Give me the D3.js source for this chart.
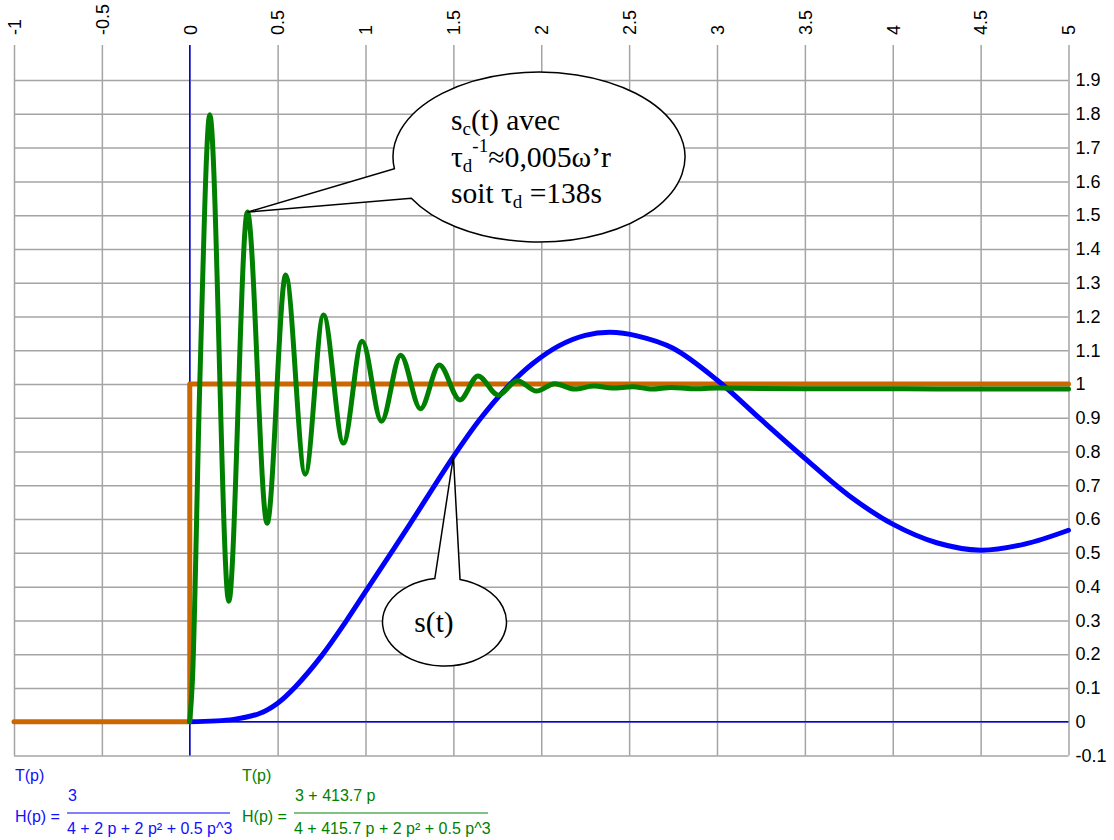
<!DOCTYPE html>
<html>
<head>
<meta charset="utf-8">
<script src="https://cdn.jsdelivr.net/npm/d3@7"></script>
<style>
  body { margin: 0; background: #fff; }
  text { font-family: "Liberation Sans", Arial, sans-serif; }
  .serif { font-family: "Liberation Serif", "Times New Roman", serif; }
</style>
</head>
<body>
<svg id="chart" width="1114" height="840"></svg>
<script>
// Tick values of the two axes
const xTicks = [-1, -0.5, 0, 0.5, 1, 1.5, 2, 2.5, 3, 3.5, 4, 4.5, 5];
const yTicks = [-0.1, 0, 0.1, 0.2, 0.3, 0.4, 0.5, 0.6, 0.7, 0.8, 0.9, 1, 1.1, 1.2, 1.3, 1.4, 1.5, 1.6, 1.7, 1.8, 1.9];

// Unit step input
const stepT = [-1, 0, 0, 5];
const stepV = [0, 0, 1, 1];

// s(t): response of the plain system
const sT = [0, 0.25, 0.4, 0.5, 0.6, 0.75, 0.89, 1.0, 1.25, 1.5, 1.65, 1.8, 1.95, 2.1, 2.25, 2.39, 2.55, 2.75, 3.0, 3.25, 3.5, 3.75, 4.0, 4.25, 4.5, 4.75, 5.0];
const sV = [0, 0.007, 0.025, 0.055, 0.103, 0.195, 0.298, 0.385, 0.583, 0.785, 0.895, 0.987, 1.06, 1.113, 1.144, 1.153, 1.142, 1.106, 1.012, 0.895, 0.78, 0.67, 0.585, 0.53, 0.508, 0.526, 0.567];

// s_c(t): response with the corrector (extrema of the damped oscillation)
const scT = [0, 0.015, 0.057, 0.114, 0.222, 0.328, 0.44, 0.546, 0.657, 0.761, 0.874, 0.981, 1.091, 1.20, 1.313, 1.42, 1.537, 1.64, 1.756, 1.864, 1.973, 2.077, 2.19, 2.30, 2.405, 2.52, 2.63, 2.74, 2.86, 3.0, 3.5, 4.0, 4.5, 5.0];
const scV = [0, 0.12, 1.0, 1.797, 0.357, 1.509, 0.588, 1.323, 0.733, 1.204, 0.825, 1.127, 0.890, 1.085, 0.927, 1.056, 0.953, 1.024, 0.967, 1.010, 0.979, 1.001, 0.985, 0.994, 0.988, 0.992, 0.985, 0.99, 0.986, 0.988, 0.986, 0.986, 0.985, 0.985];

// Points the callouts point at
const calloutScT = 0.328, calloutScV = 1.509;
const calloutST = 1.5, calloutSV = 0.785;

const svg = d3.select("#chart");
const plotLeft = 14, plotRight = 1068.5, plotTop = 46.3, plotBottom = 755.5, tickTop = 45;

const x = d3.scaleLinear().domain([-1, 5]).range([plotLeft, plotRight]);
const y = d3.scaleLinear().domain([-0.1, 2.0]).range([plotBottom, plotTop]);

const gridColor = "#a4a4a4";

// Horizontal grid + right-hand labels
const yAxis = svg.append("g")
  .attr("transform", `translate(${plotRight},0)`)
  .call(d3.axisRight(y).tickValues(yTicks).tickFormat(d => String(d))
    .tickSize(-(plotRight - plotLeft)).tickPadding(7));
yAxis.select(".domain").remove();
yAxis.selectAll(".tick line").attr("stroke", gridColor).attr("stroke-width", 1.5);
yAxis.selectAll(".tick text").attr("font-size", 18).attr("fill", "#000")
  .attr("font-family", "Liberation Sans, Arial, sans-serif");

// Vertical grid + rotated top labels
const xAxis = svg.append("g")
  .attr("transform", `translate(0,${tickTop})`)
  .call(d3.axisTop(x).tickValues(xTicks).tickFormat(d => String(d))
    .tickSize(-(plotBottom - tickTop)).tickPadding(10));
xAxis.select(".domain").remove();
xAxis.selectAll(".tick line").attr("stroke", gridColor).attr("stroke-width", 1.5);
xAxis.selectAll(".tick text")
  .attr("font-size", 18).attr("fill", "#000")
  .attr("font-family", "Liberation Sans, Arial, sans-serif")
  .attr("transform", "rotate(-90)")
  .attr("x", 10).attr("y", 0).attr("dy", "0.35em")
  .attr("text-anchor", "start");

// Coordinate axes through the origin
svg.append("line")
  .attr("x1", x(0)).attr("x2", x(0)).attr("y1", tickTop).attr("y2", plotBottom)
  .attr("stroke", "#0000ff").attr("stroke-width", 1.5);
svg.append("line")
  .attr("x1", plotLeft).attr("x2", plotRight).attr("y1", y(0)).attr("y2", y(0))
  .attr("stroke", "#0000ff").attr("stroke-width", 1.5);

// Curves
const lineLinear = d3.line().x(d => x(d[0])).y(d => y(d[1]));
const lineSmooth = d3.line().x(d => x(d[0])).y(d => y(d[1])).curve(d3.curveMonotoneX);
const lineRound = d3.line().x(d => x(d[0])).y(d => y(d[1])).curve(d3.curveCatmullRom.alpha(0.5));

function drawCurve(ts, vs, gen, color) {
  svg.append("path")
    .datum(ts.map((t, i) => [t, vs[i]]))
    .attr("d", gen)
    .attr("fill", "none")
    .attr("stroke", color)
    .attr("stroke-width", 5)
    .attr("stroke-linecap", "round")
    .attr("stroke-linejoin", "round");
}
drawCurve(stepT, stepV, lineLinear, "#cc6600");
drawCurve(sT, sV, lineRound, "#0000ff");
drawCurve(scT, scV, lineSmooth, "#008000");

// Speech-bubble callouts
function bubble(cx, cy, rx, ry, a1, a2, tip) {
  const p = a => [cx + rx * Math.cos(a * Math.PI / 180), cy + ry * Math.sin(a * Math.PI / 180)];
  const s = p(a1), e = p(a2);
  const d = `M${s[0]},${s[1]} A${rx},${ry} 0 1 1 ${e[0]},${e[1]} L${tip[0]},${tip[1]} Z`;
  svg.append("path").attr("d", d).attr("fill", "#fff")
    .attr("stroke", "#000").attr("stroke-width", 1.5).attr("stroke-linejoin", "miter");
}
bubble(539, 157, 146, 85, 172, 151, [x(calloutScT), y(calloutScV)]);
bubble(444.5, 622, 62, 44, -75.5, 261, [x(calloutST), y(calloutSV)]);

// Callout texts
const big = 29.5, small = 19;
const t1 = svg.append("text").attr("class", "serif").attr("font-size", big).attr("fill", "#000")
  .attr("x", 451).attr("y", 130);
t1.append("tspan").text("s");
t1.append("tspan").attr("font-size", small).attr("dy", 5).text("c");
t1.append("tspan").attr("dy", -5).text("(t) avec");

const t2 = svg.append("text").attr("class", "serif").attr("font-size", big).attr("fill", "#000")
  .attr("x", 451).attr("y", 167);
t2.append("tspan").text("τ");
t2.append("tspan").attr("font-size", small).attr("dy", 5).text("d");
t2.append("tspan").attr("font-size", small).attr("dy", -20).text("-1");
// rest of the line, fitted to the width of the serif metrics
const t2Start = 451 + t2.node().getComputedTextLength();
svg.append("text").attr("class", "serif").attr("font-size", big).attr("fill", "#000")
  .attr("x", t2Start).attr("y", 167)
  .attr("textLength", 611 - t2Start).attr("lengthAdjust", "spacingAndGlyphs")
  .text("≈0,005ω’r");

const t3 = svg.append("text").attr("class", "serif").attr("font-size", big).attr("fill", "#000")
  .attr("x", 451).attr("y", 203);
t3.append("tspan").text("soit τ");
t3.append("tspan").attr("font-size", small).attr("dy", 5).text("d");
t3.append("tspan").attr("dy", -5).text(" =138s");

svg.append("text").attr("class", "serif").attr("font-size", big).attr("fill", "#000")
  .attr("x", 434).attr("y", 632).attr("text-anchor", "middle").text("s(t)");

// Transfer functions under the chart
function formula(x0, color, lineColor, num, den, fracX, fracW) {
  const g = svg.append("g").attr("fill", color).attr("font-size", 16);
  g.append("text").attr("x", x0).attr("y", 781).text("T(p)");
  g.append("text").attr("x", x0).attr("y", 822).text("H(p) =");
  g.append("text").attr("x", fracX + 1).attr("y", 801).text(num);
  g.append("line").attr("x1", fracX).attr("x2", fracX + fracW).attr("y1", 813).attr("y2", 813)
    .attr("stroke", lineColor).attr("stroke-width", 2);
  g.append("text").attr("x", fracX).attr("y", 834).text(den);
}
formula(15, "#1010ff", "#8080ff", "3", "4 + 2 p + 2 p² + 0.5 p^3", 67, 163);
formula(242, "#008000", "#80c080", "3 + 413.7 p", "4 + 415.7 p + 2 p² + 0.5 p^3", 294, 194);
</script>
</body>
</html>
